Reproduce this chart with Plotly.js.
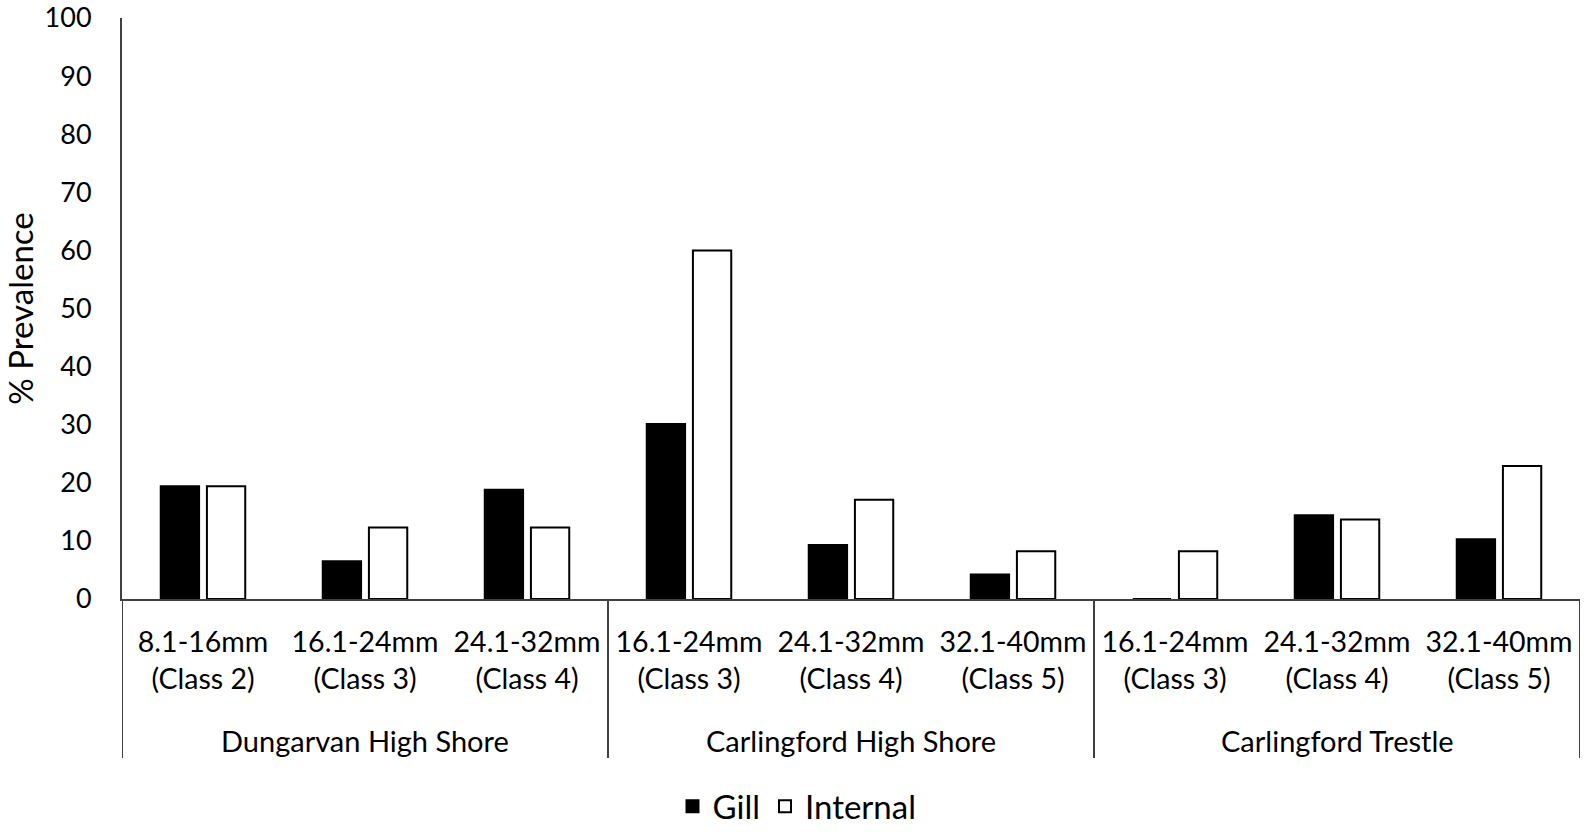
<!DOCTYPE html>
<html>
<head>
<meta charset="utf-8">
<script src="https://cdn.plot.ly/plotly-3.0.1.min.js"></script>
<style>html,body{margin:0;padding:0;background:#fff;}#chart{width:1594px;height:832px;}</style>
</head>
<body>
<div id="chart"></div>
<script>
// ---- data ----
var groups = ["Dungarvan High Shore", "Carlingford High Shore", "Carlingford Trestle"];
var groupSizes = [3, 3, 3];
var sizeLabels = [
  "8.1-16mm<br>(Class 2)", "16.1-24mm<br>(Class 3)", "24.1-32mm<br>(Class 4)",
  "16.1-24mm<br>(Class 3)", "24.1-32mm<br>(Class 4)", "32.1-40mm<br>(Class 5)",
  "16.1-24mm<br>(Class 3)", "24.1-32mm<br>(Class 4)", "32.1-40mm<br>(Class 5)"
];
var gill     = [19.4, 6.5, 18.8, 30.1, 9.3, 4.2, 0, 14.4, 10.3];
var internal = [19.4, 12.3, 12.3, 60.0, 17.1, 8.2, 8.2, 13.7, 22.9];
var yTicks = [0, 10, 20, 30, 40, 50, 60, 70, 80, 90, 100];

// ---- build ----
var FONT = "Lato, 'Open Sans', sans-serif";
var xIdx = sizeLabels.map(function (_, i) { return i; });

var traces = [
  { type: "bar", name: "Gill", x: xIdx, y: gill,
    marker: { color: "#000000", line: { color: "#000000", width: 2 } } },
  { type: "bar", name: "Internal", x: xIdx, y: internal,
    marker: { color: "#ffffff", line: { color: "#000000", width: 2 } } }
];

var shapes = [];
var annotations = [];
var start = 0;
var boundaries = [-0.5];
groups.forEach(function (g, gi) {
  var n = groupSizes[gi];
  var center = start + (n - 1) / 2;
  annotations.push({ xref: "x", yref: "paper", x: center, y: -0.2435, yanchor: "middle",
    text: g, showarrow: false, font: { family: FONT, size: 29, color: "#000" } });
  start += n;
  boundaries.push(start - 0.5);
});
boundaries.forEach(function (b) {
  shapes.push({ type: "line", xref: "x", yref: "paper", x0: b, x1: b, y0: 0, y1: -0.2737,
    line: { color: "#404040", width: 2 } });
});

var layout = {
  width: 1594, height: 832,
  margin: { l: 122, r: 14, t: 18, b: 233 },
  paper_bgcolor: "#ffffff", plot_bgcolor: "#ffffff",
  font: { family: FONT, size: 28, color: "#000" },
  barmode: "group", bargap: 0.43, bargroupgap: 0.17,
  showlegend: true,
  legend: { orientation: "h", xref: "container", yref: "container", x: 0.5, y: 0.031,
    xanchor: "center", yanchor: "middle", font: { family: FONT, size: 33, color: "#000" },
    itemwidth: 30, tracegroupgap: 0 },
  xaxis: {
    range: [-0.5, sizeLabels.length - 0.5], tickmode: "array", tickvals: xIdx, ticktext: sizeLabels,
    showline: true, linecolor: "#404040", linewidth: 2, showgrid: false, zeroline: false,
    ticks: "", ticklabelstandoff: 17, tickfont: { family: FONT, size: 28.5, color: "#000" },
    fixedrange: true
  },
  yaxis: {
    range: [0, 100], tickmode: "array", tickvals: yTicks, ticktext: yTicks.map(String),
    showline: true, linecolor: "#404040", linewidth: 2, showgrid: false, zeroline: false,
    ticks: "", ticklabelstandoff: 23, ticklabeloverflow: "allow",
    tickfont: { family: FONT, size: 27, color: "#000" },
    title: { text: "% Prevalence", font: { family: FONT, size: 33, color: "#000" }, standoff: 8 },
    automargin: false, fixedrange: true
  },
  shapes: shapes,
  annotations: annotations
};

Plotly.newPlot("chart", traces, layout, { displayModeBar: false, staticPlot: true });
</script>
</body>
</html>
